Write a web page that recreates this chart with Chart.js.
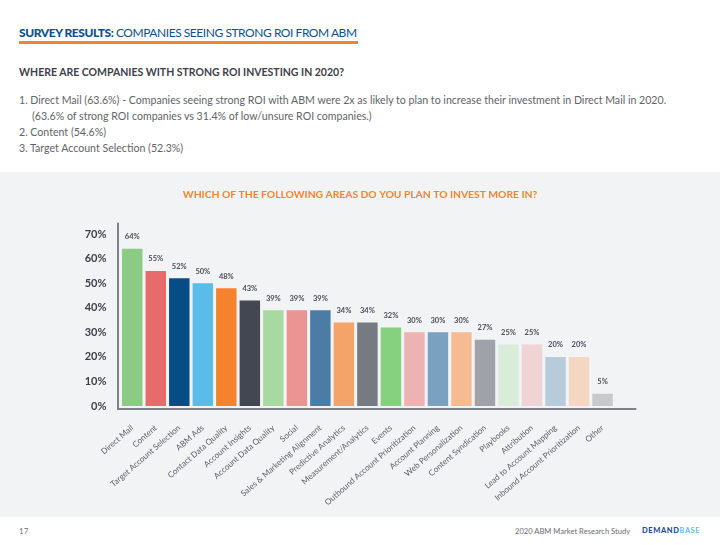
<!DOCTYPE html>
<html>
<head>
<meta charset="utf-8">
<script src="https://cdn.jsdelivr.net/npm/chart.js@4.4.1/dist/chart.umd.min.js"></script>
<style>
  html, body { margin: 0; padding: 0; width: 720px; height: 545px; background: #ffffff; overflow: hidden; font-family: Lato, "Open Sans", sans-serif; }
  .hdr { position: absolute; left: 19px; top: 25px; font-size: 12px; color: #0d4f8b; letter-spacing: -0.45px; white-space: nowrap; }
  .hdr b { font-weight: 900; }
  .uline { position: absolute; left: 19px; top: 41px; width: 339px; height: 3px; background: #f5832e; }
  .sub { position: absolute; left: 19px; top: 66px; font-size: 10.5px; font-weight: 700; color: #3d4048; white-space: nowrap; }
  .list { position: absolute; left: 19px; top: 92px; font-size: 10.6px; color: #5f6369; line-height: 16px; white-space: nowrap; }
  .list .ind { padding-left: 13px; }
  .panel { position: absolute; left: 0; top: 172px; width: 720px; height: 345px; background: #f2f3f5; }
  canvas { position: absolute; left: 0; top: 172px; }
  .pg { position: absolute; left: 19px; top: 526px; font-size: 8px; color: #777; }
  .study { position: absolute; left: 515px; top: 526px; font-size: 7.6px; color: #6a6d73; white-space: nowrap; }
  .logo { position: absolute; left: 642px; top: 526px; font-size: 7.5px; font-weight: 900; letter-spacing: 0.6px; white-space: nowrap; }
  .logo .d { color: #1d4f91; }
  .logo .b { color: #3fa9e6; font-weight: 400; }
</style>
</head>
<body>
<div class="hdr"><b>SURVEY RESULTS:</b> COMPANIES SEEING STRONG ROI FROM ABM</div>
<div class="uline"></div>
<div class="sub">WHERE ARE COMPANIES WITH STRONG ROI INVESTING IN 2020?</div>
<div class="list">
  <div>1. Direct Mail (63.6%) - Companies seeing strong ROI with ABM were 2x as likely to plan to increase their investment in Direct Mail in 2020.</div>
  <div class="ind">(63.6% of strong ROI companies vs 31.4% of low/unsure ROI companies.)</div>
  <div>2. Content (54.6%)</div>
  <div>3. Target Account Selection (52.3%)</div>
</div>
<div class="panel"></div>
<canvas id="c" width="720" height="345"></canvas>
<div class="pg">17</div>
<div class="study">2020 ABM Market Research Study</div>
<div class="logo"><span class="d">DEMAND</span><span class="b">BASE</span></div>
<script>
const categories = ["Direct Mail", "Content", "Target Account Selection", "ABM Ads", "Contact Data Quality", "Account Insights", "Account Data Quality", "Social", "Sales & Marketing Alignment", "Predictive Analytics", "Measurement/Analytics", "Events", "Outbound Account Prioritization", "Account Planning", "Web Personalization", "Content Syndication", "Playbooks", "Attribution", "Lead to Account Mapping", "Inbound Account Prioritization", "Other"];
const values = [64, 55, 52, 50, 48, 43, 39, 39, 39, 34, 34, 32, 30, 30, 30, 27, 25, 25, 20, 20, 5];
const barColors = ["#8ccb84", "#e86b6b", "#064c87", "#5bbbe9", "#f5832e", "#434752", "#a8d9a0", "#eb9494", "#4a7ca6", "#f4a468", "#767a82", "#86d17f", "#edb3b3", "#7ba1c0", "#f5bc94", "#9fa2a8", "#d9ebd9", "#f0d3d5", "#b8cbdb", "#f4d6c3", "#c8c9cc"];
const yTicks = [0, 10, 20, 30, 40, 50, 60, 70];
const chartTitle = "WHICH OF THE FOLLOWING AREAS DO YOU PLAN TO INVEST MORE IN?";

const axisLines = {
  id: 'axisLines',
  afterDraw(chart) {
    const { ctx, chartArea } = chart;
    ctx.save();
    ctx.strokeStyle = '#7d8088';
    ctx.lineWidth = 2;
    ctx.beginPath();
    ctx.moveTo(chartArea.left - 2.5, chartArea.top + 1);
    ctx.lineTo(chartArea.left - 2.5, chartArea.bottom + 4);
    ctx.moveTo(chartArea.left - 3.5, chartArea.bottom + 3);
    ctx.lineTo(chartArea.right + 22, chartArea.bottom + 3);
    ctx.stroke();
    ctx.restore();
  }
};

const valueLabels = {
  id: 'valueLabels',
  afterDatasetsDraw(chart) {
    const { ctx } = chart;
    const meta = chart.getDatasetMeta(0);
    ctx.save();
    ctx.font = 'bold 7.5px Lato, sans-serif';
    ctx.fillStyle = '#4a4d55';
    ctx.textAlign = 'center';
    ctx.textBaseline = 'middle';
    meta.data.forEach((bar, i) => {
      ctx.fillText(values[i] + '%', bar.x, bar.y - 12);
    });
    ctx.restore();
  }
};

new Chart(document.getElementById('c'), {
  type: 'bar',
  data: {
    labels: categories,
    datasets: [{
      data: values,
      backgroundColor: barColors,
      borderWidth: 0,
      barPercentage: 0.87,
      categoryPercentage: 1.0
    }]
  },
  options: {
    responsive: false,
    animation: false,
    devicePixelRatio: 1,
    layout: { padding: 0 },
    plugins: {
      legend: { display: false },
      tooltip: { enabled: false },
      title: {
        display: true,
        text: chartTitle,
        color: '#f5832e',
        font: { family: 'Lato, sans-serif', size: 10.3, weight: 'bold', lineHeight: 1.2 },
        padding: { top: 16, bottom: 21.5 }
      }
    },
    scales: {
      y: {
        min: 0,
        max: 75,
        grid: { display: false, drawTicks: false },
        border: { display: false },
        afterBuildTicks(scale) { scale.ticks = yTicks.map(v => ({ value: v })); },
        afterFit(scale) { scale.width = 120.5; },
        ticks: {
          stepSize: 10,
          padding: 14,
          color: '#3d4048',
          font: { family: 'Lato, sans-serif', size: 11, weight: 'bold' },
          callback: v => v + '%'
        }
      },
      rightSpace: {
        position: 'right',
        min: 0,
        max: 75,
        grid: { display: false, drawTicks: false },
        border: { display: false },
        ticks: { display: false },
        afterFit(scale) { scale.width = 105.7; }
      },
      x: {
        grid: { display: false, drawTicks: false },
        border: { display: false },
        afterFit(scale) { scale.height = 111; },
        ticks: {
          autoSkip: false,
          minRotation: 41,
          maxRotation: 41,
          padding: 17,
          color: '#5b5f66',
          font: { family: 'Lato, sans-serif', size: 8.2 }
        }
      }
    }
  },
  plugins: [axisLines, valueLabels]
});
</script>
</body>
</html>
